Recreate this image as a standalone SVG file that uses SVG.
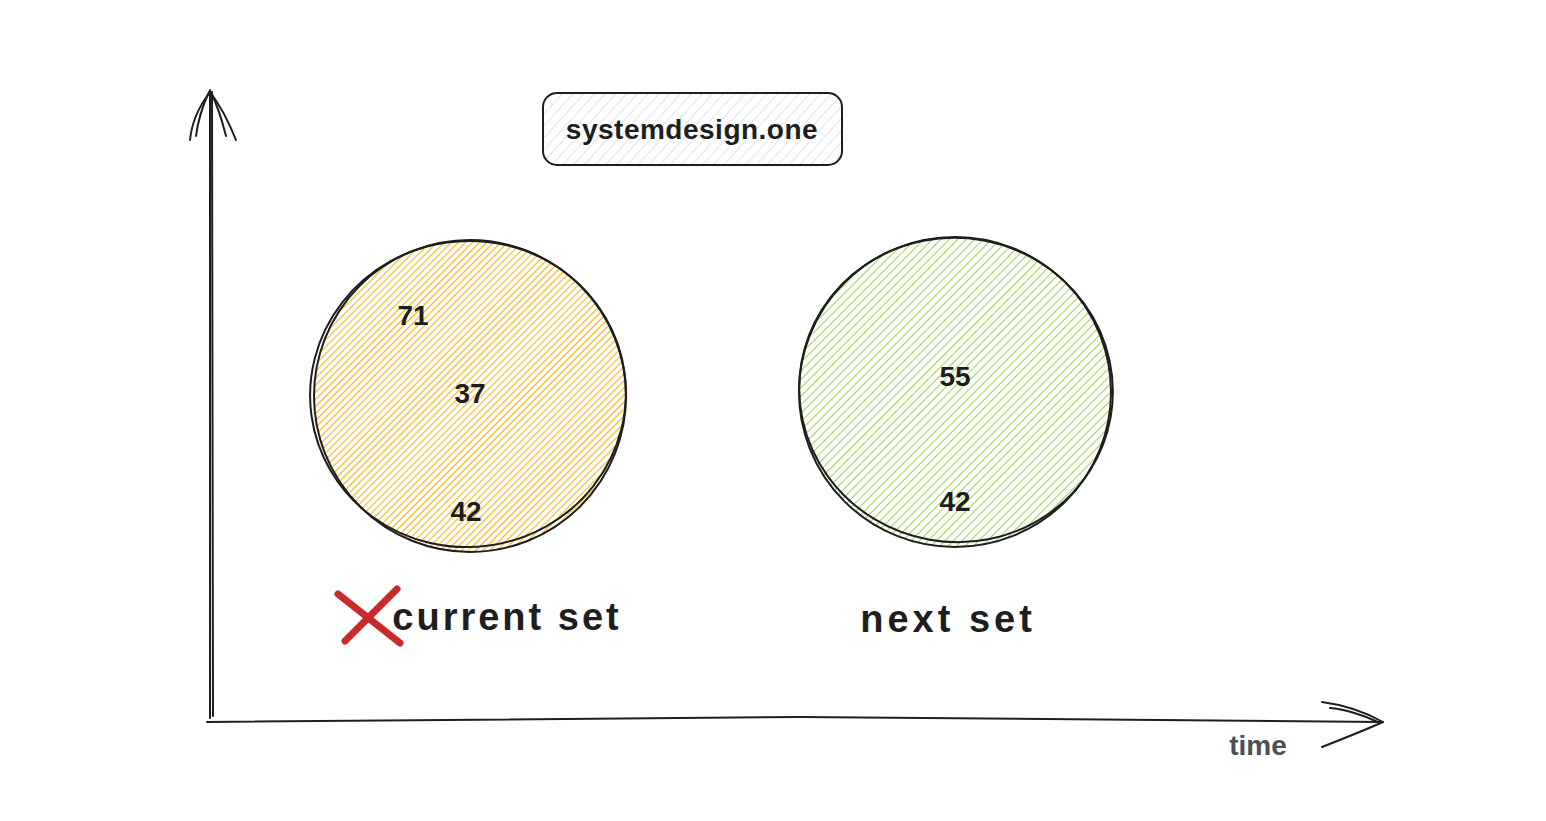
<svg xmlns="http://www.w3.org/2000/svg" width="1546" height="821" viewBox="0 0 1546 821">
<style>
.lbl{font-family:"Liberation Sans","Noto Sans",sans-serif;fill:#1e1e1e;text-anchor:middle;dominant-baseline:central;font-weight:bold}
.ink{fill:none;stroke:#1e1e1e;stroke-width:2;stroke-linecap:round}
</style>
<defs>
<pattern id="hOrange" width="5" height="5" patternUnits="userSpaceOnUse" patternTransform="rotate(45)">
<line x1="0" y1="0" x2="0" y2="5" stroke="#fab005" stroke-width="2"/>
</pattern>
<pattern id="hGreen" width="6" height="6" patternUnits="userSpaceOnUse" patternTransform="rotate(45)">
<line x1="0" y1="0" x2="0" y2="6" stroke="#82c91e" stroke-width="1.6"/>
</pattern>
<pattern id="hGray" width="8" height="8" patternUnits="userSpaceOnUse" patternTransform="rotate(42)">
<line x1="0" y1="0" x2="0" y2="8" stroke="#ced4da" stroke-width="1.3"/>
</pattern>
</defs>
<rect width="1546" height="821" fill="#ffffff"/>

<g id="connectors">
<path class="ink" d="M210 718 L210 90" stroke-width="2.5"/>
<path class="ink" d="M213 716 L212 92"/>
<path class="ink" d="M210 92 C200 105 192 120 190 140 M210 92 C220 105 228 120 236 140"/>
<path class="ink" d="M209 92 C203 105 198 120 196 136 M211 92 C217 105 222 120 226 136"/>
<path class="ink" d="M207 722 L800 717 L1383 722" stroke-width="2.5"/>
<path class="ink" d="M1383 722 C1365 712 1345 705 1322 702 M1383 722 C1365 730 1345 738 1322 747"/>
<path class="ink" d="M1380 723 C1362 714 1342 709 1330 708"/>
</g>

<g id="title">
<rect x="543" y="93" width="299" height="72" rx="14" fill="url(#hGray)"/>
<rect x="543" y="93" width="299" height="72" rx="14" class="ink"/>
<text x="692" y="129" class="lbl" font-size="28" letter-spacing="0.5">systemdesign.one</text>
</g>

<g id="current-set">
<circle cx="470" cy="396" r="156" fill="url(#hOrange)"/>
<ellipse cx="470" cy="396" rx="156" ry="156" class="ink"/>
<ellipse cx="468" cy="394" rx="158" ry="153" class="ink" stroke-width="1.5" transform="rotate(-8 468 394)"/>
<text x="413" y="315" class="lbl" font-size="28">71</text>
<text x="470" y="393" class="lbl" font-size="28">37</text>
<text x="466" y="511" class="lbl" font-size="28">42</text>
</g>

<g id="next-set">
<circle cx="955" cy="392" r="156" fill="url(#hGreen)"/>
<ellipse cx="955" cy="392" rx="156" ry="155" class="ink"/>
<ellipse cx="956" cy="390" rx="157" ry="152" class="ink" stroke-width="1.5" transform="rotate(10 956 390)"/>
<text x="955" y="376" class="lbl" font-size="28">55</text>
<text x="955" y="501" class="lbl" font-size="28">42</text>
</g>

<g id="current-label">
<path d="M338 594 L400 643 M397 589 L345 641" fill="none" stroke="#c92a2a" stroke-width="7" stroke-linecap="round"/>
<text x="507" y="617" class="lbl" font-size="38" letter-spacing="3">current set</text>
</g>

<g id="next-label">
<text x="948" y="619" class="lbl" font-size="38" letter-spacing="4">next set</text>
</g>

<g id="time-label">
<text x="1258" y="745" class="lbl" font-size="28" style="fill:#495057">time</text>
</g>
</svg>
